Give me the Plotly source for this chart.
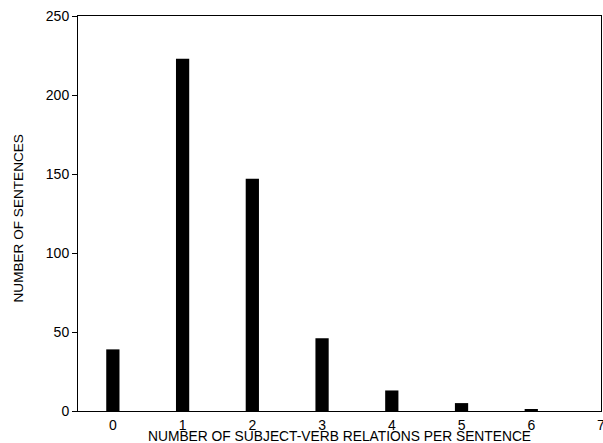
import plotly.graph_objects as go

relations = [0, 1, 2, 3, 4, 5, 6]
sentences = [39, 223, 147, 46, 13, 5, 1]
x_ticks = [0, 1, 2, 3, 4, 5, 6, 7]
y_ticks = [0, 50, 100, 150, 200, 250]

FONT = "Liberation Sans, Arial, sans-serif"

fig = go.Figure(go.Bar(x=relations, y=sentences, width=0.19,
                       marker=dict(color="black", line=dict(width=0))))

fig.update_layout(
    width=603, height=443,
    margin=dict(l=78, r=2, t=16, b=32),
    paper_bgcolor="white", plot_bgcolor="white",
    font=dict(family=FONT, size=14, color="black"),
    showlegend=False,
    annotations=[
        dict(text="NUMBER OF SUBJECT-VERB RELATIONS PER SENTENCE", xref="paper", yref="paper",
             x=0.5, y=0, xanchor="center", yanchor="top", yshift=-16, showarrow=False,
             font=dict(family=FONT, size=13.8, color="black")),
        dict(text="NUMBER OF SENTENCES", xref="paper", yref="paper", textangle=-90,
             x=0, y=0.5, xanchor="center", yanchor="middle", xshift=-60, yshift=-5,
             showarrow=False, font=dict(family=FONT, size=13.6, color="black")),
    ],
)
fig.update_xaxes(range=[-0.5, 7], tickvals=x_ticks, ticks="", showgrid=False, zeroline=False,
                 showline=True, linecolor="black", linewidth=1, mirror=True,
                 automargin=False, ticklabelstandoff=1, ticklabeloverflow="allow")
fig.update_yaxes(range=[0, 250], tickvals=y_ticks, ticks="outside", ticklen=5, tickcolor="black",
                 showgrid=False, zeroline=False, automargin=False,
                 showline=True, linecolor="black", linewidth=1, mirror=True)

fig.write_html("out.html", config={"displayModeBar": False},
               post_script="document.body.style.margin='0';document.body.style.overflow='hidden';")
